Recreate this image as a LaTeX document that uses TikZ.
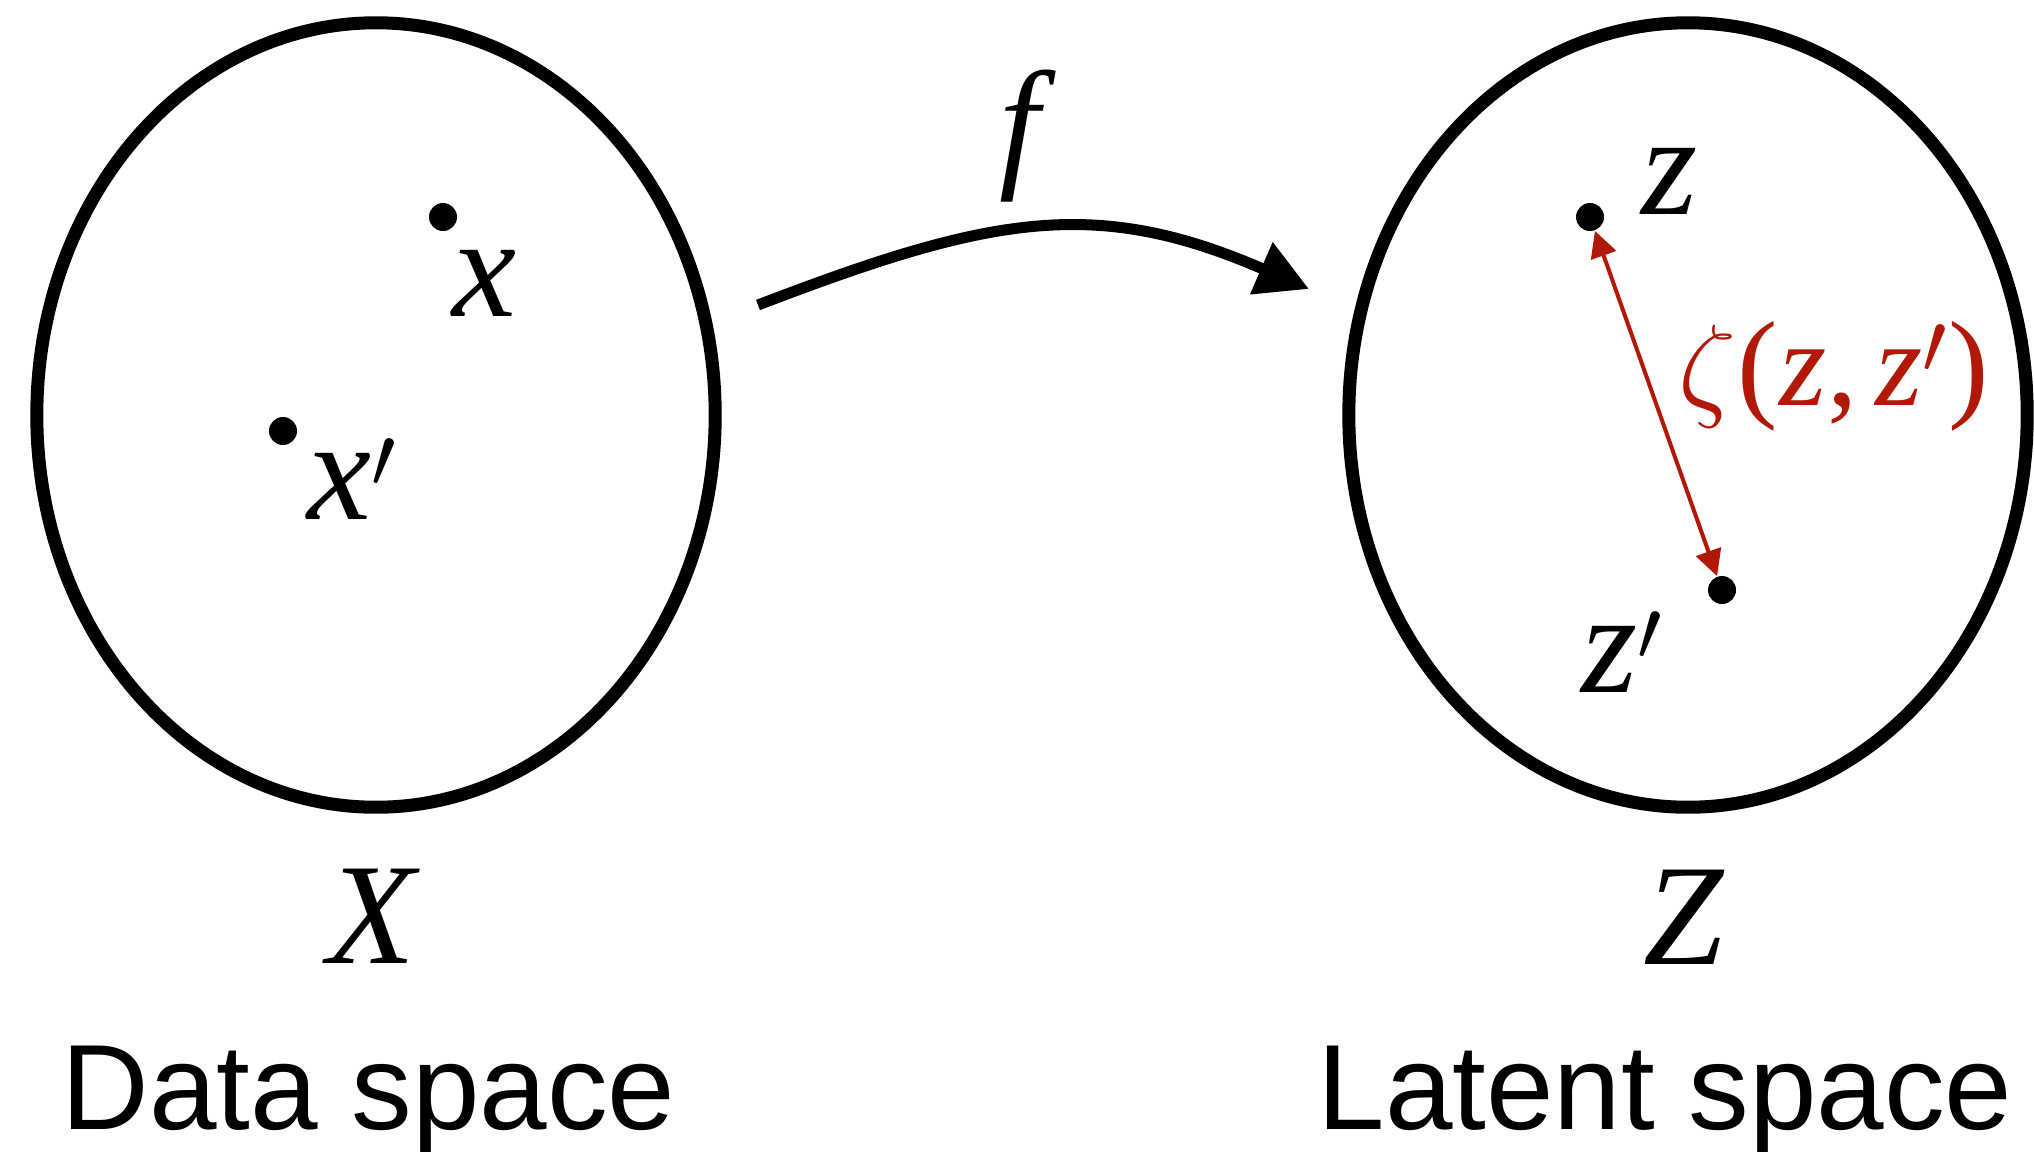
\documentclass[tikz,border=0pt]{standalone}
\usepackage{fontspec}
\setsansfont{Liberation Sans}
\newfontfamily\tms{Liberation Serif}
\usetikzlibrary{arrows.meta,shapes.geometric}
\definecolor{darkred}{RGB}{178,24,8}
\begin{document}
\begin{tikzpicture}[x=0.01cm,y=-0.01cm,
  space/.style={draw, ellipse, line width=0.13cm, minimum width=6.78cm, minimum height=7.84cm, inner sep=0pt},
  dot/.style={circle, fill=black, minimum size=0.28cm, inner sep=0pt},
  mlabel/.style={font=\fontsize{41}{41}\selectfont\tms\itshape, inner sep=0pt, anchor=base},
  rlabel/.style={font=\fontsize{34.5}{34.5}\selectfont\tms, text=darkred, inner sep=0pt, anchor=base},
  slabel/.style={font=\fontsize{34.5}{34.5}\selectfont\sffamily, inner sep=0pt, anchor=base west},
  maparrow/.style={line width=0.11cm, -{Triangle[length=0.52cm, width=0.54cm]}},
  distarrow/.style={draw=darkred, line width=0.04cm, {Triangle[length=0.26cm, width=0.26cm]}-{Triangle[length=0.26cm, width=0.26cm]}}]
\useasboundingbox (0,0) rectangle (2034,1151);
% spaces
\node[space] (X) at (376,415) {};
\node[space] (Z) at (1688,415) {};
% points
\node[dot] (x) at (443,217) {};
\node[dot] (xp) at (283,431) {};
\node[dot] (z) at (1590,217) {};
\node[dot] (zp) at (1722,590) {};
% labels
\node[mlabel] (lx) at (484,316) {x};
\node[mlabel] (lxp) at (352,519) {x$^{\prime}$};
\node[mlabel] (lz) at (1670,214) {z};
\node[mlabel] (lzp) at (1622,692) {z$^{\prime}$};
\node[mlabel] (lX) at (372,963) {X};
\node[mlabel] (lZ) at (1684,964) {Z};
\node[mlabel] (lf) at (1020,171) {f};
\node[rlabel] (lzeta) at (1834,405) {\scalebox{1.32}{$\zeta$}(\hspace{0.02em}{\itshape z},\hspace{0.15em}{\itshape z}$^{\prime}$)};
\node[slabel] (data) at (61,1129) {Data space};
\node[slabel] (latent) at (1317,1129) {Latent space};
% connectors
\coordinate (fs) at (758,305);
\coordinate (fe) at (1309,289);
\draw[maparrow] (fs) .. controls (990,216) and (1095,196) .. (fe);
\draw[distarrow] (z) -- (zp);
\end{tikzpicture}
\end{document}
